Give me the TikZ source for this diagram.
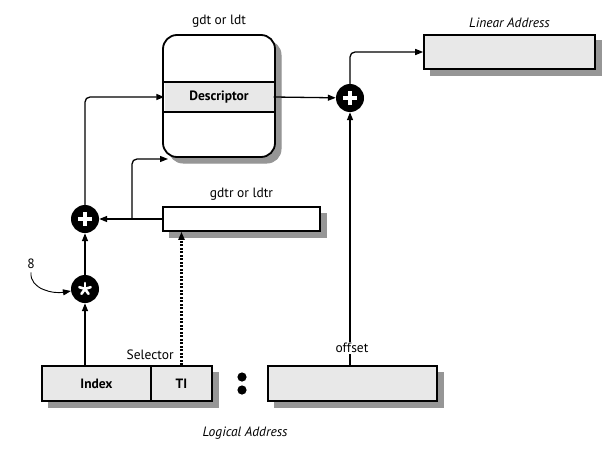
\documentclass[tikz,border=0pt]{standalone}
\usepackage{fontspec}
\setmainfont{PT Sans}
\usetikzlibrary{arrows.meta, positioning}

\definecolor{shadowgray}{RGB}{150,150,150}
\tikzset{
  boxshadow/.style={fill=shadowgray, draw=shadowgray, line width=1pt},
  field/.style={draw, line width=1.6pt, fill=gray!18, minimum height=35pt, inner sep=0pt,
                font=\fontsize{13.5}{16}\selectfont\bfseries},
  op/.style={circle, fill=black, minimum size=28pt, inner sep=0pt},
  plusop/.style={op, path picture={
      \draw[white, line width=3.6pt]
        ([xshift=-7pt]path picture bounding box.center) -- ([xshift=7pt]path picture bounding box.center)
        ([yshift=-7pt]path picture bounding box.center) -- ([yshift=7pt]path picture bounding box.center);}},
  starop/.style={op, path picture={
      \foreach \a in {90,162,234,306,378}
        \draw[white, line width=2.6pt, line cap=round] (path picture bounding box.center) -- ++(\a:6pt);}},
  link/.style={line width=1.3pt, -{Triangle[length=8pt,width=6pt]}, rounded corners=5pt},
}

\begin{document}
\begin{tikzpicture}[x=1pt, y=-1pt, font=\fontsize{13.5}{16}\selectfont]
  \useasboundingbox (0,0) rectangle (615,452);

  % shadows
  \filldraw[boxshadow, rounded corners=14pt] (169,41) rectangle (281,163);
  \foreach \xa/\ya/\xb/\yb in {169/213/326/237, 430/41/601/75, 48/372/218/407, 274/372/443/407}
    \filldraw[boxshadow] (\xa,\ya) rectangle (\xb,\yb);

  % tables and registers
  \node[draw, line width=1.8pt, rounded corners=14pt, fill=white, minimum width=112pt, minimum height=122pt] (gdt) at (219,96) {};
  \node[fill=gray!18, minimum width=109pt, minimum height=30pt, inner sep=0pt, font=\fontsize{13.5}{16}\selectfont\bfseries] (desc) at (219,97) {Descriptor};
  \draw[line width=1.6pt]
      (desc.north -| gdt.west) -- (desc.north -| gdt.east)
      (desc.south -| gdt.west) -- (desc.south -| gdt.east);
  \node[above=3pt of gdt] (gdtlbl) {gdt or ldt};

  \node[field, fill=white, minimum width=157pt, minimum height=24pt] (gdtr) at (241.5,219) {};
  \node[above=2pt of gdtr] (gdtrlbl) {gdtr or ldtr};

  \node[field, minimum width=171pt, minimum height=34pt] (linear) at (509.5,52) {};
  \node[above=3pt of linear, font=\fontsize{13.5}{16}\selectfont\itshape] (linlbl) {Linear Address};

  % logical address
  \node[field, minimum width=109pt] (index) at (96.5,383.5) {Index};
  \node[field, minimum width=61pt, right=-1.6pt of index] (ti) {TI};
  \node[field, minimum width=169pt] (offset) at (352.5,383.5) {};
  \fill (242,377) circle (4.6pt) (242,390) circle (4.6pt);
  \node[above=2pt of ti.north west] (sellbl) {Selector};
  \node[fill=white, inner sep=1pt] (offlbl) at (352,348) {offset};
  \node[font=\fontsize{13.5}{16}\selectfont\itshape] (logical) at (245,433) {Logical Address};

  % operators
  \node[plusop] (sum) at (85,219) {};
  \node[starop] (scale) at (85,289) {};
  \node[plusop] (sumlin) at (350,98) {};
  \node (eight) at (31,264) {8};
  \coordinate (tap) at (132,219);
  \coordinate (gdtin) at (168,159);

  % connectors
  \draw[link] (index.north -| scale) -- (scale);
  \draw[link] (scale) -- (sum);
  \draw[link, line width=0.9pt] (eight.south) to[out=-95, in=190] (scale.188);
  \draw[link] (gdtr.west) -- (sum);
  \draw[link] (tap) |- (gdtin);
  \draw[link] (sum) |- (desc.west);
  \draw[link] (desc.east) -- (sumlin);
  \draw[link] (sumlin) |- (linear.west);
  \draw[line width=1.3pt] (offset.north -| sumlin) -- (offlbl.south -| sumlin);
  \draw[link] (offlbl.north -| sumlin) -- (sumlin);
  \draw[link, line width=2.2pt, dash pattern=on 2pt off 1.5pt] (ti.north) -- (ti.north |- gdtr.south);
\end{tikzpicture}
\end{document}
